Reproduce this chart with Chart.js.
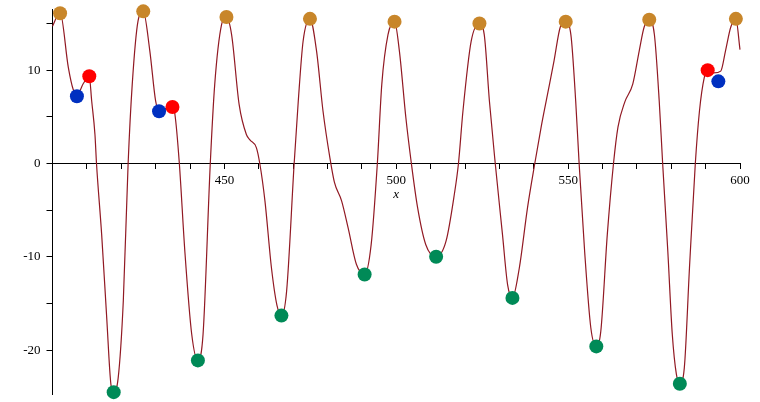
<!DOCTYPE html>
<html>
<head>
<meta charset="utf-8">
<script src="https://cdn.jsdelivr.net/npm/chart.js@4.4.1/dist/chart.umd.min.js"></script>
<style>
html, body { margin: 0; padding: 0; background: #fff; }
#wrap { width: 760px; height: 402px; }
</style>
</head>
<body>
<div id="wrap"><canvas id="plot" width="760" height="402"></canvas></div>
<script>
// curve
const curveX = [400, 402.2, 404.6, 406.0, 407.1, 409.0, 410.7, 411.4, 412.35, 412.8, 414.3, 415.75, 417.0, 417.8, 419.1, 420.6, 422.0, 423.2, 424.9, 426.4,
  428.3, 430.0, 431.0, 433.0, 434.9, 435.6, 436.9, 438.5, 440.5, 442.3, 443.8, 445.9, 447.2, 449.2, 450.6,
  452.1, 454.3, 456.4, 457.5, 459.3, 460.3, 461.8, 463.7, 465.3, 466.6, 468.1, 470.3, 471.5, 472.9, 474.9,
  476.8, 478.7, 480.7, 482.0, 484.1, 486.0, 488.4, 490.8, 492.7, 494.5, 495.8, 497.6, 499.5,
  500.9, 502.8, 504.4, 506.2, 508.6, 511.6, 514.5, 516.9, 518.1, 519.4, 521.8, 524.2,
  525.6, 527.1, 528.8, 530.9, 532.4, 533.8, 535.8, 538.2, 540.3, 542.1, 544.0, 545.9, 547.7, 549.3,
  550.8, 552.2, 553.2, 554.8, 556.6, 558.2, 559.5, 561.4, 563.2, 564.5, 566.5, 568.8, 570.7, 572.1, 573.6,
  575.1, 576.5, 577.5, 579.0, 580.3, 581.5, 582.5, 583.8, 585.3, 587.0, 588.2, 589.6, 590.6, 592.4, 594.4, 595.8, 597.3, 598.8, 600];
const curveY = [14.7, 16.2, 10.3, 7.95, 7.3, 8.6, 9.3, 6.7, 3.1, 0, -7.6, -16.4, -23.7, -24.5, -23.0, -14.7, 0, 8.5, 15.3, 16.3,
  12.1, 6.7, 5.6, 5.9, 6.05, 5.3, 0, -9.4, -18.3, -21.1, -18.3, 0, 8.5, 14.9, 15.7,
  13.8, 6.3, 3.1, 2.5, 1.7, 0, -4.0, -11.2, -15.2, -16.3, -13.7, 0, 6.7, 13.1, 15.5,
  12.1, 5.6, 0.6, -2.0, -4.0, -6.9, -10.8, -11.9, -8.7, 0, 8.5, 13.8, 15.2,
  12.1, 4.9, 0, -4.7, -8.7, -10.0, -8.3, -3.3, 0, 5.6, 13.1, 15.0,
  13.8, 6.7, 0, -7.6, -13.0, -14.4, -11.2, -4.7, 0, 3.8, 7.4, 11.0, 14.6, 15.2,
  13.8, 6.7, 0, -9.4, -17.6, -19.6, -18.0, -7.6, 0, 3.9, 6.6, 8.5, 12.1, 14.6, 15.4,
  13.8, 6.7, 0, -9.4, -18.3, -22.6, -23.6, -21.9, -11.2, 0, 5.6, 9.2, 10.0, 9.7, 9.9, 12.1, 14.6, 15.5, 12.2];

// marked points
const maxX = [402.2, 426.4, 450.6, 474.9, 499.5, 524.2, 549.3, 573.6, 598.8];
const maxY = [16.1, 16.3, 15.7, 15.5, 15.2, 15.0, 15.2, 15.4, 15.5];
const minX = [417.8, 442.3, 466.6, 490.8, 511.6, 533.8, 558.2, 582.5];
const minY = [-24.5, -21.1, -16.3, -11.9, -10.0, -14.4, -19.6, -23.6];
const blueX = [407.1, 431.0, 593.7];
const blueY = [7.2, 5.6, 8.8];
const redX = [410.7, 434.9, 590.6];
const redY = [9.35, 6.05, 10.0];

const toPoints = (xs, ys) => xs.map((x, i) => ({x: x, y: ys[i]}));
const dots = (label, xs, ys, color) => ({
  label: label,
  data: toPoints(xs, ys),
  showLine: false,
  pointRadius: 7,
  pointHoverRadius: 7,
  pointBackgroundColor: color,
  pointBorderWidth: 0,
  order: 0,
  clip: false
});

// scales drop their own label padding so layout.padding decides the plot box
const noPad = s => { s.paddingTop = 0; s.paddingBottom = 0; };

Chart.defaults.font.family = "'Liberation Serif', serif";
Chart.defaults.font.size = 13;
Chart.defaults.color = '#000';

new Chart(document.getElementById('plot').getContext('2d'), {
  type: 'scatter',
  data: {
    datasets: [
      dots('max', maxX, maxY, '#c8862a'),
      dots('min', minX, minY, '#008a57'),
      dots('blue', blueX, blueY, '#0030c0'),
      dots('red', redX, redY, '#ff0000'),
      {
        label: 'f(x)',
        data: toPoints(curveX, curveY),
        showLine: true,
        borderColor: 'rgb(145,25,35)',
        borderWidth: 1.2,
        pointRadius: 0,
        cubicInterpolationMode: 'monotone',
        order: 5,
        clip: false
      }
    ]
  },
  options: {
    responsive: false,
    animation: false,
    events: [],
    layout: { padding: { left: 14.5, right: 20, top: 9.5, bottom: 8 } },
    plugins: { legend: { display: false }, tooltip: { enabled: false } },
    scales: {
      x: {
        type: 'linear',
        min: 400,
        max: 600,
        position: { y: 0 },
        afterFit: noPad,
        grid: { drawOnChartArea: false, drawTicks: true, tickLength: 5, color: '#000' },
        border: { color: '#000', width: 1 },
        ticks: {
          stepSize: 10,
          autoSkip: false,
          maxRotation: 0,
          includeBounds: false,
          padding: 4,
          callback: v => (v % 50 === 0 && v > 400) ? v : ''
        },
        title: { display: true, text: 'x', font: { style: 'italic', size: 13 }, padding: { top: -5, bottom: 0 } }
      },
      y: {
        type: 'linear',
        min: -24.7,
        max: 16.5,
        position: 'left',
        afterFit: s => { s.width = 38; noPad(s); },
        grid: { drawOnChartArea: false, drawTicks: true, tickLength: 6, color: '#000' },
        border: { color: '#000', width: 1 },
        ticks: {
          stepSize: 5,
          autoSkip: false,
          includeBounds: false,
          padding: 6,
          callback: v => v % 10 === 0 ? v : ''
        }
      }
    }
  }
});
</script>
</body>
</html>
